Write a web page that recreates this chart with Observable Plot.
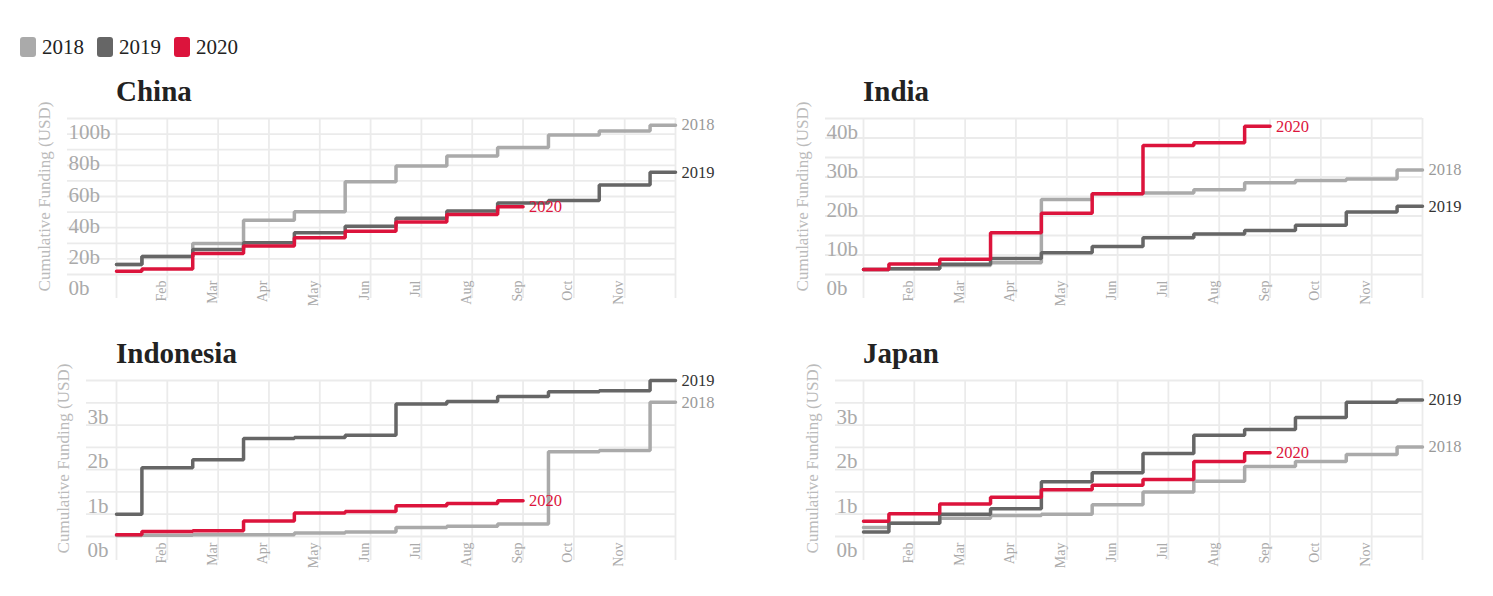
<!DOCTYPE html>
<html>
<head>
<meta charset="utf-8">
<script src="https://cdn.jsdelivr.net/npm/d3@7"></script>
<script src="https://cdn.jsdelivr.net/npm/@observablehq/plot@0.6"></script>
<style>
  html, body { margin: 0; padding: 0; background: #fff; }
  #root { position: relative; width: 1493px; height: 596px; overflow: hidden; font-family: "Liberation Serif", serif; }
  .legend { position: absolute; left: 20px; top: 37px; display: flex; align-items: center; height: 20px; }
  .legend .sw { width: 16px; height: 20px; border-radius: 3px; margin-right: 6px; }
  .legend .lb { font-size: 21px; color: #222; margin-right: 13px; line-height: 20px; }
  .title { position: absolute; font-family: "Liberation Serif", serif; font-weight: bold; font-size: 29px; line-height: 29px; color: #222; }
  .panel { position: absolute; }
</style>
</head>
<body>
<div id="root"></div>
<script>
// ---------- data ----------
const months = ["Jan","Feb","Mar","Apr","May","Jun","Jul","Aug","Sep","Oct","Nov","Dec"];
const shownMonths = ["Feb","Mar","Apr","May","Jun","Jul","Aug","Sep","Oct","Nov"];
const years = ["2018","2019","2020"];
const countries = ["China","India","Indonesia","Japan"];

// cumulative funding, billions USD, month-start points
const china2018 = [6.4, 11.6, 19.8, 34.7, 40.3, 59.5, 69.6, 76.0, 81.4, 89.5, 92.0, 95.7];
const china2019 = [6.4, 11.6, 16.1, 20.3, 26.8, 31.0, 36.0, 40.7, 45.8, 47.5, 57.4, 65.5];
const china2020 = [2.1, 3.6, 13.5, 18.2, 23.6, 27.8, 33.6, 38.5, 43.5];

const india2018 = [1.3, 1.5, 2.3, 3.0, 19.2, 20.7, 20.9, 21.7, 23.5, 24.1, 24.5, 26.8];
const india2019 = [1.3, 1.5, 2.6, 4.1, 5.6, 7.2, 9.4, 10.4, 11.3, 12.6, 16.0, 17.5];
const india2020 = [1.3, 2.7, 3.9, 10.7, 15.7, 20.7, 33.1, 33.8, 38.0];

const indonesia2018 = [0.02, 0.03, 0.04, 0.04, 0.08, 0.10, 0.20, 0.23, 0.28, 1.90, 1.93, 3.01];
const indonesia2019 = [0.50, 1.54, 1.72, 2.20, 2.22, 2.27, 2.97, 3.03, 3.14, 3.25, 3.27, 3.50];
const indonesia2020 = [0.04, 0.11, 0.13, 0.35, 0.53, 0.56, 0.69, 0.74, 0.80];

const japan2018 = [0.20, 0.30, 0.41, 0.47, 0.50, 0.71, 1.00, 1.24, 1.57, 1.68, 1.84, 2.01];
const japan2019 = [0.10, 0.30, 0.50, 0.62, 1.23, 1.43, 1.86, 2.27, 2.40, 2.67, 3.01, 3.06];
const japan2020 = [0.34, 0.51, 0.73, 0.88, 1.05, 1.15, 1.28, 1.68, 1.88];

// y-axis ticks (labels) and gridlines
const chinaTicks = [0, 20, 40, 60, 80, 100];
const chinaGrid = [0, 10, 20, 30, 40, 50, 60, 70, 80, 90, 100];
const indiaTicks = [0, 10, 20, 30, 40];
const indiaGrid = [0, 5, 10, 15, 20, 25, 30, 35, 40];
const smallTicks = [0, 1, 2, 3];
const smallGrid = [0, 0.5, 1, 1.5, 2, 2.5, 3, 3.5];

const yAxisTitle = "Cumulative Funding (USD)";

// ---------- styling / layout ----------
const lineColors = {"2018": "#aaaaaa", "2019": "#666666", "2020": "#dc143c"};
const labelColors = {"2018": "#999999", "2019": "#333333", "2020": "#dc143c"};
const gridColor = "#ebebeb";

const seriesByCountry = {
  China: [china2018, china2019, china2020],
  India: [india2018, india2019, india2020],
  Indonesia: [indonesia2018, indonesia2019, indonesia2020],
  Japan: [japan2018, japan2019, japan2020]
};
const scaleByCountry = {
  China: {max: 100, ticks: chinaTicks, grid: chinaGrid},
  India: {max: 40, ticks: indiaTicks, grid: indiaGrid},
  Indonesia: {max: 3.5, ticks: smallTicks, grid: smallGrid},
  Japan: {max: 3.5, ticks: smallTicks, grid: smallGrid}
};
const layout = {
  China: {left: 0, top: 100, labelOffset: 48},
  India: {left: 747, top: 100, labelOffset: 37},
  Indonesia: {left: 0, top: 362, labelOffset: 29},
  Japan: {left: 747, top: 362, labelOffset: 27}
};

const root = document.getElementById("root");

// legend
const legend = document.createElement("div");
legend.className = "legend";
years.forEach(y => {
  const sw = document.createElement("div");
  sw.className = "sw";
  sw.style.background = lineColors[y];
  const lb = document.createElement("div");
  lb.className = "lb";
  lb.textContent = y;
  legend.appendChild(sw);
  legend.appendChild(lb);
});
root.appendChild(legend);

function panel(country) {
  const sc = scaleByCountry[country];
  const lay = layout[country];
  const seriesMarks = [];
  years.forEach((yr, k) => {
    const vals = seriesByCountry[country][k];
    const rows = vals.map((v, i) => ({month: months[i], value: v, year: yr}));
    seriesMarks.push(Plot.line(rows, {
      x: "month", y: "value", curve: "step",
      stroke: lineColors[yr], strokeWidth: 3.5, strokeLinecap: "round", strokeLinejoin: "miter"
    }));
    seriesMarks.push(Plot.text(rows, Plot.selectLast({
      x: "month", y: "value", text: "year",
      fill: labelColors[yr], textAnchor: "start", lineAnchor: "middle", dx: 6, fontSize: 16.5
    })));
  });
  return Plot.plot({
    width: 745,
    height: 204,
    marginTop: 18,
    marginBottom: 30,
    marginLeft: 116,
    marginRight: 70,
    x: {type: "point", domain: months, padding: 0, round: false, axis: null},
    y: {domain: [0, sc.max], axis: null},
    style: {fontFamily: "'Liberation Serif', serif", background: "transparent", overflow: "visible"},
    marks: [
      Plot.ruleY(sc.grid, {y: d => d, stroke: gridColor, strokeWidth: 1.8, insetLeft: -(lay.labelOffset + 1)}),
      Plot.ruleX(months, {x: d => d, stroke: gridColor, strokeWidth: 1.8, insetBottom: -24}),
      Plot.text(sc.ticks, {
        y: d => d, frameAnchor: "left", text: d => d + "b",
        textAnchor: "start", lineAnchor: "middle", dx: -lay.labelOffset, dy: 14, fontSize: 21, fill: "#aaaaaa"
      }),
      Plot.text(shownMonths, {
        x: d => d, frameAnchor: "bottom", rotate: -90, textAnchor: "end", lineAnchor: "middle",
        dx: -6, dy: 6, fontSize: 14, fill: "#aaaaaa"
      }),
      Plot.text([yAxisTitle], {
        frameAnchor: "left", rotate: -90, text: d => d, textAnchor: "middle", lineAnchor: "middle",
        dx: -(lay.labelOffset + 24), fontSize: 17, fill: "#bbbbbb"
      }),
      ...seriesMarks
    ]
  });
}

countries.forEach(c => {
  const lay = layout[c];
  const t = document.createElement("div");
  t.className = "title";
  t.textContent = c;
  t.style.left = (lay.left + 116) + "px";
  t.style.top = (lay.top - 23) + "px";
  root.appendChild(t);
  const wrap = document.createElement("div");
  wrap.className = "panel";
  wrap.style.left = lay.left + "px";
  wrap.style.top = lay.top + "px";
  wrap.appendChild(panel(c));
  root.appendChild(wrap);
});
</script>
</body>
</html>
